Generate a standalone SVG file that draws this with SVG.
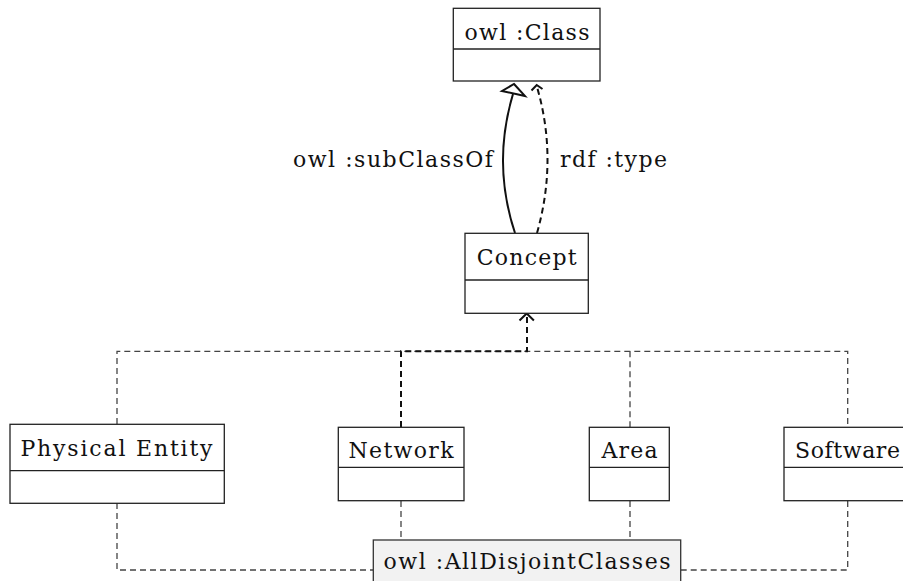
<svg xmlns="http://www.w3.org/2000/svg" width="903" height="581" viewBox="0 0 903 581">
<style>
.box{fill:#ffffff;stroke:#222;stroke-width:1.3}
.note{fill:#f2f2f2;stroke:#333;stroke-width:1.3}
.div{stroke:#222;stroke-width:1.3}
.t{font-family:'DejaVu Serif','Liberation Serif',serif;font-size:22px;fill:#111;text-anchor:middle}
.tl{font-family:'DejaVu Serif','Liberation Serif',serif;font-size:22px;fill:#111}
.thin{fill:none;stroke:#444;stroke-width:1.3;stroke-dasharray:6 4}
.thick{fill:none;stroke:#111;stroke-width:2;stroke-dasharray:6 4}
.solid{fill:none;stroke:#111;stroke-width:2}
.head{fill:none;stroke:#111;stroke-width:2;stroke-linejoin:miter}
</style>
<rect width="903" height="581" fill="#ffffff"/>
<g id="connectors">
  <path class="solid" d="M515,233 Q492,164 513,94"/>
  <polygon class="head" points="514,84 525,96 502,91" fill="#ffffff"/>
  <path class="thick" d="M537,233 Q558,159 537,87"/>
  <polyline class="head" points="531.5,90.5 536.7,85 542.5,89"/>
  <text class="tl" x="293" y="167" textLength="200" lengthAdjust="spacing">owl :subClassOf</text>
  <text class="tl" x="560" y="167" textLength="107" lengthAdjust="spacing">rdf :type</text>
  <path class="thin" d="M117,424 V351.3 H847.7 V427"/>
  <path class="thin" d="M630,351.3 V427"/>
  <path class="thick" d="M401,427 V351.3 H527 V315"/>
  <polyline class="head" points="519.5,320.5 526.7,313.5 533.9,320.5"/>
  <path class="thin" d="M117,503 V570 H373"/>
  <path class="thin" d="M401,501 V540"/>
  <path class="thin" d="M630,501 V540"/>
  <path class="thin" d="M847.7,501 V570 H681"/>
</g>
<g id="owlClass">
  <rect class="box" x="453.3" y="8.3" width="146.7" height="72.7"/>
  <line class="div" x1="453.3" y1="49" x2="600" y2="49"/>
  <text class="t" x="527" y="39.5" textLength="125" lengthAdjust="spacing">owl :Class</text>
</g>
<g id="concept">
  <rect class="box" x="465" y="233.3" width="123.3" height="80"/>
  <line class="div" x1="465" y1="280" x2="588.3" y2="280"/>
  <text class="t" x="526.7" y="265" textLength="100" lengthAdjust="spacing">Concept</text>
</g>
<g id="physicalEntity">
  <rect class="box" x="10" y="424.3" width="214.3" height="79"/>
  <line class="div" x1="10" y1="470.7" x2="224.3" y2="470.7"/>
  <text class="t" x="116.5" y="455.7" textLength="192" lengthAdjust="spacing">Physical Entity</text>
</g>
<g id="network">
  <rect class="box" x="338.3" y="427.3" width="125.7" height="73.4"/>
  <line class="div" x1="338.3" y1="467.3" x2="464" y2="467.3"/>
  <text class="t" x="401" y="457.7" textLength="105" lengthAdjust="spacing">Network</text>
</g>
<g id="area">
  <rect class="box" x="589.3" y="427.3" width="80" height="73.4"/>
  <line class="div" x1="589.3" y1="467.3" x2="669.3" y2="467.3"/>
  <text class="t" x="629.5" y="457.7" textLength="56" lengthAdjust="spacing">Area</text>
</g>
<g id="software">
  <rect class="box" x="784" y="427.3" width="127" height="73.4"/>
  <line class="div" x1="784" y1="467.3" x2="911" y2="467.3"/>
  <text class="t" x="847.5" y="457.7" textLength="105" lengthAdjust="spacing">Software</text>
</g>
<g id="allDisjointClasses">
  <rect class="note" x="373.3" y="540" width="307.4" height="50"/>
  <text class="t" x="527" y="569.3" textLength="287" lengthAdjust="spacing">owl :AllDisjointClasses</text>
</g>
</svg>
